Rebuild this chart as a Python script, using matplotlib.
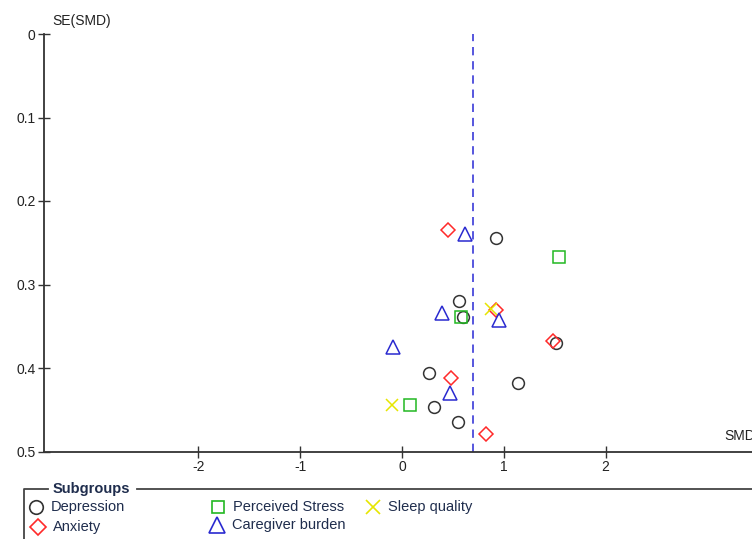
import matplotlib
matplotlib.use("Agg")
import matplotlib.pyplot as plt

plt.rcParams["font.family"] = ["Liberation Sans", "DejaVu Sans"]

# SMD, SE(SMD) per subgroup
dep_smd = [0.92, 0.56, 0.596, 1.51, 0.265, 1.14, 0.317, 0.547]
dep_se = [0.244, 0.320, 0.3385, 0.3697, 0.4064, 0.4176, 0.447, 0.465]
anx_smd = [0.45, 0.923, 1.483, 0.478, 0.828]
anx_se = [0.2347, 0.331, 0.3677, 0.4116, 0.479]
stress_smd = [1.54, 0.58, 0.082]
stress_se = [0.267, 0.339, 0.4443]
sleep_smd = [0.874, -0.095]
sleep_se = [0.3297, 0.4443]
burden_smd = [0.62, 0.393, 0.956, -0.085, 0.47]
burden_se = [0.239, 0.3345, 0.3425, 0.3745, 0.430]
pooled_smd = 0.70

x_ticks = [-2, -1, 0, 1, 2]
y_ticks = [0, 0.1, 0.2, 0.3, 0.4, 0.5]
y_labels = ["0", "0.1", "0.2", "0.3", "0.4", "0.5"]

groups = [
    ("Depression", dep_smd, dep_se, "o", "#333333", 8.5),
    ("Anxiety", anx_smd, anx_se, "D", "#ff2a2a", 7.5),
    ("Perceived Stress", stress_smd, stress_se, "s", "#22b822", 8),
    ("Sleep quality", sleep_smd, sleep_se, "x", "#e6e600", 8.5),
    ("Caregiver burden", burden_smd, burden_se, "^", "#2a2ad0", 10),
]

W, H = 752, 539
fig = plt.figure(figsize=(W / 100, H / 100), dpi=100)

x0_px, xaxis_y = 44, 451.5
ax = fig.add_axes([x0_px / W, (H - xaxis_y) / H, (W - x0_px) / W, (xaxis_y - 34) / H])
ax.set_xlim((x0_px - 402) / 101.8, (W - 402) / 101.8)
ax.set_ylim(0.5, 0)

ax.axvline(pooled_smd, color="#3a3ad8", lw=1.2, ls=(0, (5, 3.5)))

for name, xs, ys, mk, col, ms in groups:
    ax.plot(xs, ys, ls="none", marker=mk, ms=ms, mfc="none", mec=col, mew=1.1,
            clip_on=False)

for s in ("top", "right"):
    ax.spines[s].set_visible(False)
for s in ("left", "bottom"):
    ax.spines[s].set_color("#333333")
    ax.spines[s].set_linewidth(1.3)

ax.set_xticks(x_ticks)
ax.set_xticklabels([str(v) for v in x_ticks])
ax.set_yticks(y_ticks)
ax.set_yticklabels(y_labels)
ax.tick_params(direction="inout", length=8, width=1, color="#333333",
               labelsize=10, labelcolor="#222222", pad=2)

fig.text(52 / W, 1 - 21 / H, "SE(SMD)", fontsize=10, color="#222222", va="center")
fig.text(724 / W, 1 - 436 / H, "SMD", fontsize=10, color="#222222", va="center")

# legend box, drawn in pixel coords
lg = fig.add_axes([0, 0, 1, 60 / H])
lg.set_xlim(0, W)
lg.set_ylim(H, H - 60)
lg.axis("off")
lg.plot([24, 24, 48], [H, 488.5, 488.5], color="#444444", lw=1.3)
lg.plot([137, W], [488.5, 488.5], color="#444444", lw=1.3)
lg.text(53, 488.5, "Subgroups", fontsize=10.5, fontweight="bold", color="#1f2d4d",
        va="center")

legend_pos = {
    "Depression": (36, 507),
    "Anxiety": (38, 527),
    "Perceived Stress": (218, 507),
    "Caregiver burden": (217, 525),
    "Sleep quality": (373, 507),
}
for name, xs, ys, mk, col, ms in groups:
    mx, my = legend_pos[name]
    lg.plot([mx], [my], ls="none", marker=mk, ms=ms * 1.15, mfc="none", mec=col,
            mew=1.2, clip_on=False)
    lg.text(mx + 15, my, name, fontsize=10.5, color="#1f2d4d", va="center")

fig.savefig("out.png", dpi=100)
